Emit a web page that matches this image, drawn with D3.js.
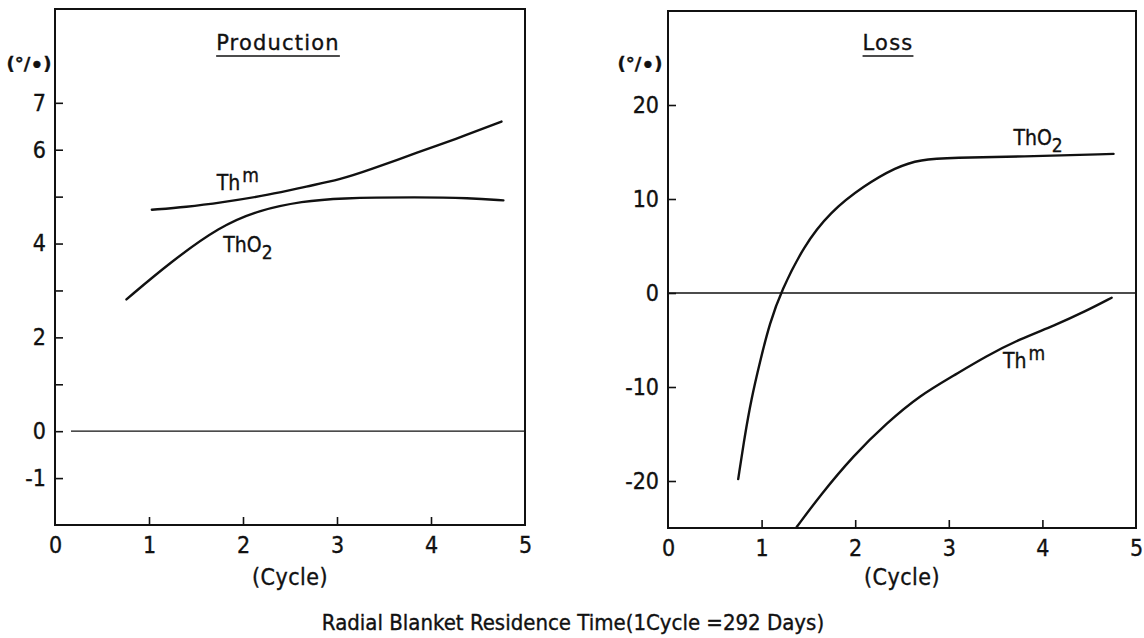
<!DOCTYPE html>
<html>
<head>
<meta charset="utf-8">
<script src="https://cdn.jsdelivr.net/npm/d3@7"></script>
<style>
  html, body { margin: 0; padding: 0; background: #fff; }
  svg { display: block; }
  text { font-family: 'DejaVu Sans Condensed', 'DejaVu Sans', sans-serif; fill: #111; stroke: #111; stroke-width: 0.35px; }
</style>
</head>
<body>
<svg id="chart" width="1144" height="638"></svg>
<script>
// Residence time in cycles (x) and relative change in per mille (y)
const prodThmX  = [1.03, 1.40, 1.755, 2.29, 2.68, 3.03, 3.35, 3.88, 4.24, 4.75];
const prodThmY  = [4.72, 4.78, 4.87, 5.04, 5.22, 5.36, 5.57, 5.96, 6.21, 6.60];
const prodThO2X = [0.76, 1.22, 1.755, 2.18, 2.64, 3.00, 3.88, 4.41, 4.77];
const prodThO2Y = [2.81, 3.59, 4.37, 4.72, 4.90, 4.97, 4.99, 4.97, 4.92];

const lossThO2X = [0.75, 0.82, 0.89, 0.98, 1.09, 1.21, 1.45, 1.73, 2.09, 2.44, 2.69, 3.05, 3.76, 4.76];
const lossThO2Y = [-19.8, -15.2, -11.3, -7.4, -3.1, 0.2, 5.0, 8.6, 11.4, 13.4, 14.2, 14.4, 14.5, 14.8];
const lossThmX  = [1.375, 1.62, 1.98, 2.34, 2.69, 3.05, 3.40, 3.76, 4.12, 4.47, 4.74];
const lossThmY  = [-24.9, -21.6, -17.3, -13.8, -10.9, -8.8, -6.7, -4.9, -3.5, -1.9, -0.5];

const cycleTicks    = [0, 1, 2, 3, 4, 5];
const prodYTicks    = [7, 6, 5, 4, 3, 2, 1, 0, -1];
const prodYLabelled = [7, 6, 4, 2, 0, -1];
const lossYTicks    = [20, 10, 0, -10, -20];
const lossYLabelled = [20, 10, 0, -10, -20];

const svg = d3.select('#chart');
const zip = (xs, ys) => xs.map((x, i) => [x, ys[i]]);
const COND = "'DejaVu Sans Condensed', 'DejaVu Sans', sans-serif";
const REG = "'DejaVu Sans', sans-serif";

function styleTickText(sel) {
  sel.selectAll('text')
    .attr('font-size', 23).attr('fill', '#111')
    .style('font-family', COND).style('stroke', '#111').style('stroke-width', '0.35px');
}

function panel(cfg) {
  const x = d3.scaleLinear().domain([0, 5]).range([cfg.left, cfg.right]);
  const y = d3.scaleLinear().domain(cfg.yDomain).range([cfg.bottom, cfg.top]);
  const g = svg.append('g');

  // y axis: inward ticks, only some labelled
  const yAxis = d3.axisLeft(y)
    .tickValues(cfg.yTicks)
    .tickSizeInner(-8).tickSizeOuter(0).tickPadding(9)
    .tickFormat(d => cfg.yLabelled.includes(d) ? String(d) : '');
  const ya = g.append('g').attr('transform', `translate(${cfg.left},0)`).call(yAxis);
  ya.select('.domain').remove();
  ya.selectAll('line').attr('stroke', '#111').attr('stroke-width', 1.6);
  styleTickText(ya);

  // x axis: inward ticks at interior cycles
  const xAxis = d3.axisBottom(x)
    .tickValues(cycleTicks)
    .tickSizeInner(-8).tickSizeOuter(0).tickPadding(12)
    .tickFormat(d => String(d));
  const xa = g.append('g').attr('transform', `translate(0,${cfg.bottom})`).call(xAxis);
  xa.select('.domain').remove();
  xa.selectAll('.tick').filter(d => d === 0 || d === 5).select('line').remove();
  xa.selectAll('line').attr('stroke', '#111').attr('stroke-width', 1.6);
  styleTickText(xa);

  // zero reference line
  g.append('line')
    .attr('x1', x(cfg.zeroFrom)).attr('x2', x(5))
    .attr('y1', y(0)).attr('y2', y(0))
    .attr('stroke', '#111').attr('stroke-width', 1.3);

  // frame
  g.append('rect')
    .attr('x', cfg.left).attr('y', cfg.top)
    .attr('width', cfg.right - cfg.left).attr('height', cfg.bottom - cfg.top)
    .attr('fill', 'none').attr('stroke', '#111').attr('stroke-width', 2);

  // curves
  const line = d3.line().x(d => x(d[0])).y(d => y(d[1])).curve(d3.curveBasis);
  cfg.series.forEach(s => {
    g.append('path').datum(zip(s.xs, s.ys))
      .attr('d', line).attr('fill', 'none')
      .attr('stroke', '#111').attr('stroke-width', 2.4).attr('stroke-linecap', 'round');
  });

  // series labels
  cfg.labels.forEach(l => {
    const t = g.append('text').attr('x', x(l.x)).attr('y', y(l.y))
      .attr('font-size', 21).style('font-family', COND);
    t.append('tspan').text('Th');
    if (l.kind === 'm') {
      t.append('tspan').attr('dx', 2).attr('dy', -8).attr('font-size', 19).text('m');
    } else {
      t.append('tspan').text('O');
      t.append('tspan').attr('dy', 7).attr('font-size', 19).text('2');
    }
  });

  // panel title, underlined
  const title = g.append('text')
    .attr('x', cfg.titleX).attr('y', 50)
    .attr('text-anchor', 'middle').attr('font-size', 21)
    .style('font-family', REG).style('letter-spacing', '1.2px')
    .text(cfg.title);
  const w = title.node().getComputedTextLength();
  g.append('line')
    .attr('x1', cfg.titleX - w / 2).attr('x2', cfg.titleX + w / 2)
    .attr('y1', 56).attr('y2', 56)
    .attr('stroke', '#111').attr('stroke-width', 1.4);

  // unit label (per mille)
  const u = g.append('text').attr('x', cfg.unitX).attr('y', 70)
    .attr('text-anchor', 'middle').attr('font-size', 18).attr('font-weight', 'bold')
    .style('font-family', REG);
  u.append('tspan').text('(°/');
  u.append('tspan').attr('dy', 2).attr('font-size', 20).text('•');
  u.append('tspan').attr('dy', -2).text(')');

  // x axis caption
  g.append('text')
    .attr('x', cfg.captionX).attr('y', 585)
    .attr('text-anchor', 'middle').attr('font-size', 23)
    .style('letter-spacing', '0.5px')
    .text('(Cycle)');
}

panel({
  left: 55, right: 525, top: 9, bottom: 525,
  yDomain: [-2, 9], yTicks: prodYTicks, yLabelled: prodYLabelled,
  zeroFrom: 0.17, title: 'Production', titleX: 278, unitX: 29, captionX: 290,
  series: [{ xs: prodThmX, ys: prodThmY }, { xs: prodThO2X, ys: prodThO2Y }],
  labels: [{ x: 1.72, y: 5.15, kind: 'm' }, { x: 1.79, y: 3.83, kind: 'o' }]
});

panel({
  left: 668, right: 1136, top: 11, bottom: 528,
  yDomain: [-25, 30], yTicks: lossYTicks, yLabelled: lossYLabelled,
  zeroFrom: 0, title: 'Loss', titleX: 888, unitX: 640, captionX: 902,
  series: [{ xs: lossThO2X, ys: lossThO2Y }, { xs: lossThmX, ys: lossThmY }],
  labels: [{ x: 3.69, y: 15.7, kind: 'o' }, { x: 3.58, y: -8.0, kind: 'm' }]
});

// shared caption
svg.append('text')
  .attr('x', 573).attr('y', 630)
  .attr('text-anchor', 'middle').attr('font-size', 22)
  .text('Radial Blanket Residence Time(1Cycle =292 Days)');
</script>
</body>
</html>
